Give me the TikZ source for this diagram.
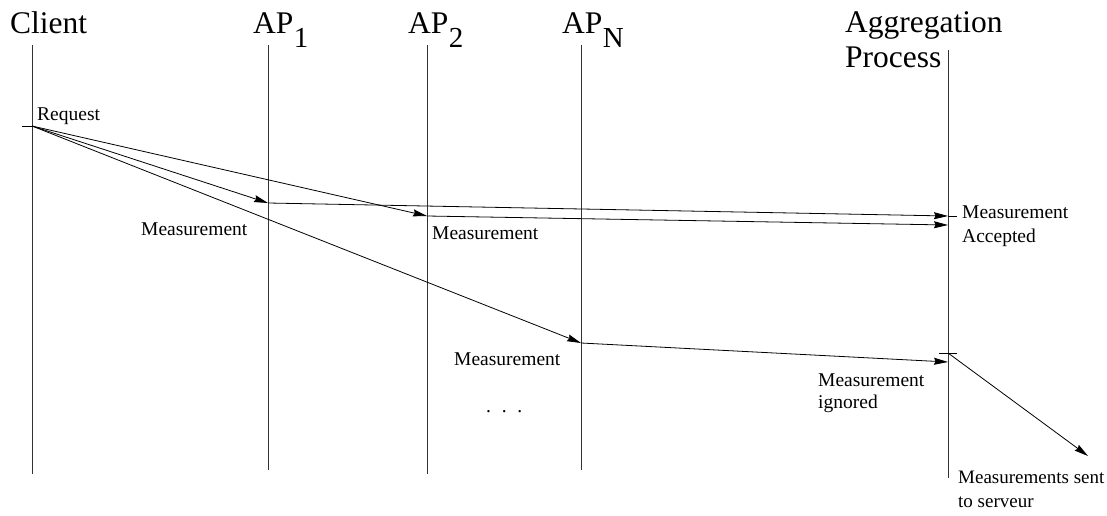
\documentclass[tikz,border=0pt]{standalone}
\usepackage{fontspec}
\setmainfont{Liberation Serif}
\usetikzlibrary{arrows.meta}
\begin{document}
\begin{tikzpicture}[x=1pt,y=-1pt,
  life/.style={draw=black!80,line width=0.9pt},
  msg/.style={draw=black,line width=0.8pt,-{Stealth[length=14pt,width=7pt,inset=1.5pt]}},
  tickline/.style={draw=black,line width=0.8pt},
  big/.style={inner sep=0pt,anchor=base west,font=\fontsize{31.5}{36}\selectfont},
  subs/.style={inner sep=0pt,anchor=base west,font=\fontsize{29}{32}\selectfont},
  small/.style={inner sep=0pt,anchor=base west,font=\fontsize{19.5}{23}\selectfont,align=left},
]
\useasboundingbox (0,0) rectangle (1107,516);

% headers
\node[big] (hclient) at (10,34) {Client};
\node[big] (hap1) at (253,34) {AP};
\node[subs] (hap1s) at (hap1.base east) [yshift=-14pt] {1};
\node[big] (hap2) at (408,34) {AP};
\node[subs] (hap2s) at (hap2.base east) [yshift=-14pt] {2};
\node[big] (hapn) at (562,34) {AP};
\node[subs] (hapns) at (hapn.base east) [yshift=-14pt] {N};
\node[big] (hagg) at (845,33) {Aggregation};
\node[big] (hproc) at (845,68) {Process};

% lifeline ends
\coordinate (c0) at (32,45);  \coordinate (c1) at (32,474);
\coordinate (a0) at (268,45); \coordinate (a1) at (268,470);
\coordinate (b0) at (427,45); \coordinate (b1) at (427,474);
\coordinate (n0) at (581,45); \coordinate (n1) at (581,470);
\coordinate (g0) at (948,50); \coordinate (g1) at (948,478);
\draw[life] (c0) -- (c1);
\draw[life] (a0) -- (a1);
\draw[life] (b0) -- (b1);
\draw[life] (n0) -- (n1);
\draw[life] (g0) -- (g1);

% events
\coordinate (req) at (32,126);
\coordinate (reqL) at (22,126);
\coordinate (ma) at (268,203);
\coordinate (mb) at (427,216);
\coordinate (mn) at (581,343);
\coordinate (ga) at (948,216);
\coordinate (gaR) at (957,216);
\coordinate (gb) at (948,225);
\coordinate (gn) at (948,362);
\coordinate (gs) at (948,353);
\coordinate (gsL) at (939,353);
\coordinate (gsR) at (957,353);
\coordinate (srv) at (1088,456);

\draw[tickline] (reqL) -- (req);
\draw[tickline] (ga) -- (gaR);
\draw[tickline] (gsL) -- (gsR);

\draw[msg] (req) -- (ma);
\draw[msg] (req) -- (mb);
\draw[msg] (req) -- (mn);
\draw[msg] (ma) -- (ga);
\draw[msg] (mb) -- (gb);
\draw[msg] (mn) -- (gn);
\draw[msg] (gs) -- (srv);

% labels
\node[small] (lreq) at (37,121) {Request};
\node[small] (lm1) at (141,235) {Measurement};
\node[small] (lm2) at (432,239) {Measurement};
\node[small] (lmn) at (454,365) {Measurement};
\node[small] (lacc1) at (962,218) {Measurement};
\node[small] (lacc2) at (962,242) {Accepted};
\node[small] (lign1) at (818,386) {Measurement};
\node[small] (lign2) at (818,408) {ignored};
\node[small] (ldots) at (486,412) {.\hspace{0.55em}.\hspace{0.55em}.};
\node[small,font=\fontsize{19}{23}\selectfont] (lsent1) at (958,483) {Measurements sent};
\node[small,font=\fontsize{19}{23}\selectfont] (lsent2) at (958,507) {to serveur};
\end{tikzpicture}
\end{document}
